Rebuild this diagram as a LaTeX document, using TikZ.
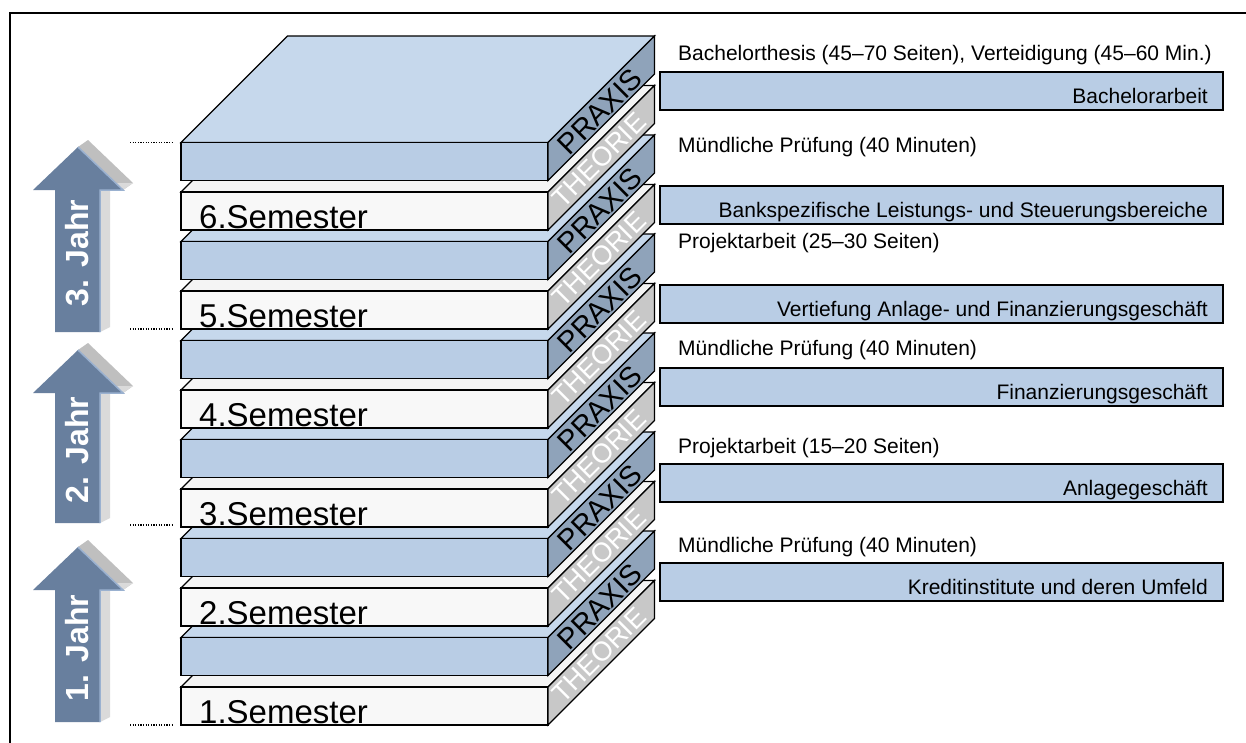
\documentclass[tikz,border=0pt]{standalone}
\usepackage{fontspec}
\setmainfont{Liberation Sans}
\definecolor{bluefront}{HTML}{B9CDE5}
\definecolor{bluetop}{HTML}{C6D8EC}
\definecolor{whitefront}{HTML}{F8F8F8}
\definecolor{whitetop}{HTML}{F4F4F4}
\definecolor{praxisside}{HTML}{8FA3BA}
\definecolor{theorieside}{HTML}{C8C8C8}
\definecolor{arrowfront}{HTML}{687F9E}
\definecolor{arrowgray}{HTML}{BFBFBF}
\definecolor{arrowlight}{HTML}{DADADA}
\definecolor{arrowbevel}{HTML}{9AB1D0}
\newcommand\yeararrow[4]{%
  \fill[arrowgray] (78,#1) -- (88,#1-7) -- (133,#1+36) -- (123,#1+43) -- cycle;
  \fill[arrowlight] (100,#1+43) -- (123,#1+43) -- (133,#1+36) -- (110,#1+36) -- (110,#2-5) -- (100,#2) -- cycle;
  \fill[arrowfront] (78,#1) -- (123,#1+43) -- (100,#1+43) -- (100,#2) -- (55,#2) -- (55,#1+43) -- (33,#1+43) -- cycle;
  \draw[arrowbevel,line width=1.5pt] (78,#1) -- (123,#1+43) -- (100,#1+43) -- (100,#2);
  \node[yeartext] (#4) at (77.5,{(#1+43+#2)/2-8}) {#3};
}
\begin{document}
\begin{tikzpicture}[x=1pt,y=-1pt,
  edge/.style={draw=black,line width=1.3pt,line join=miter},
  praxis/.style={rotate=45,inner sep=0pt,text=black,font=\fontsize{29}{31}\selectfont},
  theorie/.style={rotate=45,inner sep=0pt,text=white,font=\fontsize{27}{29}\selectfont},
  sem/.style={anchor=base west,inner sep=0pt,font=\fontsize{33}{36}\selectfont},
  label/.style={anchor=base west,inner sep=0pt,font=\fontsize{21}{24}\selectfont},
  boxtext/.style={anchor=base east,inner sep=0pt,font=\fontsize{21}{24}\selectfont},
  boxnode/.style={draw=black,line width=1.3pt,fill=bluefront,minimum width=563pt,minimum height=38pt,inner sep=0pt},
  yeartext/.style={rotate=90,inner sep=0pt,text=white,font=\bfseries\fontsize{32}{34}\selectfont},
  dots/.style={line width=1.3pt,dash pattern=on 1.2pt off 1.4pt}]
\useasboundingbox (0,0) rectangle (1246,742);
\fill[white] (0,0) rectangle (1246,742);
\draw[line width=2pt] (10,760) -- (10,13) -- (1260,13);

% year arrows
\yeararrow{147}{332}{3. Jahr}{y3}
\yeararrow{350}{523}{2. Jahr}{y2}
\yeararrow{547}{722}{1. Jahr}{y1}

% dotted marks
\draw[dots] (130,142.5) -- (173,142.5);
\draw[dots] (130,329) -- (173,329);
\draw[dots] (130,525) -- (173,525);
\draw[dots] (130,725) -- (173,725);

% slabs
\foreach \i in {0,...,11}{
  \pgfmathsetmacro\yt{687-49.5*\i}
  \ifodd\i
    \def\topc{bluetop}\def\frontc{bluefront}\def\sidec{praxisside}
  \else
    \def\topc{whitetop}\def\frontc{whitefront}\def\sidec{theorieside}
  \fi
  \filldraw[edge,fill=\topc] (181,\yt) -- (548,\yt) -- (654.5,\yt-106.5) -- (287.5,\yt-106.5) -- cycle;
  \filldraw[edge,fill=\frontc] (181,\yt) rectangle (548,\yt+38);
  \filldraw[edge,fill=\sidec] (548,\yt) -- (654.5,\yt-106.5) -- (654.5,\yt-68.5) -- (548,\yt+38) -- cycle;
  \ifodd\i
    \node[praxis] (side\i) at (600,\yt-31) {PRAXIS};
  \else
    \node[theorie] (side\i) at (599,\yt-32) {THEORIE};
    \pgfmathtruncatemacro\s{\i/2+1}
    \node[sem] (sem\s) at (199,\yt+36) {\s.Semester};
  \fi
}

% right column
\node[label] (l6b) at (678,60) {Bachelorthesis (45–70 Seiten), Verteidigung (45–60 Min.)};
\node[boxnode] (b6b) at (941.5,91) {};
\node[boxtext] (t6b) at (1208,103) {Bachelorarbeit};
\node[label] (l6a) at (678,152) {Mündliche Prüfung (40 Minuten)};
\node[boxnode] (b6a) at (941.5,205) {};
\node[boxtext] (t6a) at (1208,217) {Bankspezifische Leistungs- und Steuerungsbereiche};
\node[label] (l5) at (678,248) {Projektarbeit (25–30 Seiten)};
\node[boxnode] (b5) at (941.5,304) {};
\node[boxtext] (t5) at (1208,316) {Vertiefung Anlage- und Finanzierungsgeschäft};
\node[label] (l4) at (678,355) {Mündliche Prüfung (40 Minuten)};
\node[boxnode] (b4) at (941.5,387) {};
\node[boxtext] (t4) at (1208,399) {Finanzierungsgeschäft};
\node[label] (l3) at (678,453) {Projektarbeit (15–20 Seiten)};
\node[boxnode] (b3) at (941.5,483) {};
\node[boxtext] (t3) at (1208,495) {Anlagegeschäft};
\node[label] (l2) at (678,552) {Mündliche Prüfung (40 Minuten)};
\node[boxnode] (b2) at (941.5,582) {};
\node[boxtext] (t2) at (1208,594) {Kreditinstitute und deren Umfeld};
\end{tikzpicture}
\end{document}
